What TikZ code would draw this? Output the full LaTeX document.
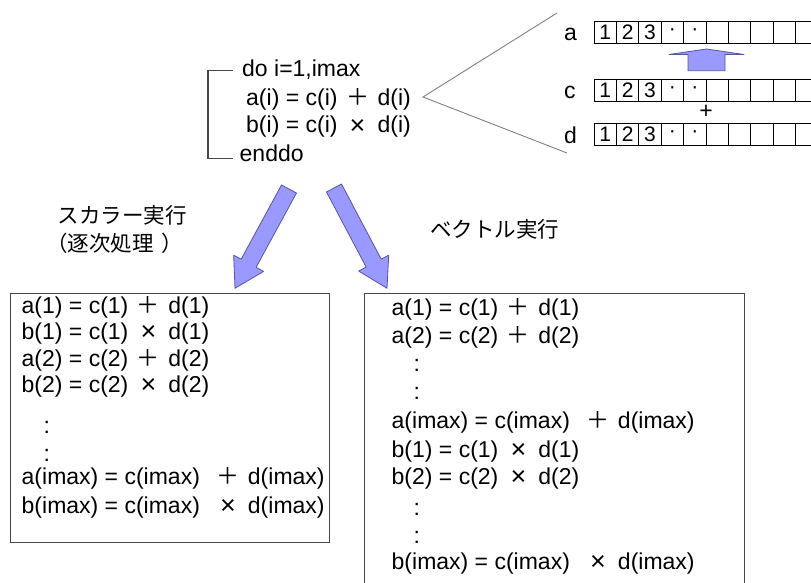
\documentclass[tikz,border=0pt]{standalone}
\usepackage{fontspec}
\setmainfont{Liberation Sans}
\newfontfamily\jpfont{Noto Sans CJK JP}
\usetikzlibrary{calc}
\definecolor{arrowblue}{RGB}{153,153,255}
\definecolor{arrowedge}{RGB}{85,85,160}
\definecolor{boxgray}{RGB}{70,70,70}
\tikzset{line/.style = {anchor=base west, inner sep=0, font=\fontsize{23}{28}\selectfont}}
\tikzset{jp/.style = {anchor=base west, inner sep=0, font=\jpfont\fontsize{21.5}{28}\selectfont}}
\tikzset{cell/.style = {draw=black, line width=0.8, minimum width=22.4, minimum height=22,
                        inner sep=0, font=\fontsize{21}{21}\selectfont}}
\tikzset{bigarrow/.style = {fill=arrowblue, draw=arrowedge, line width=0.8, line join=round}}
\tikzset{frame/.style = {draw=boxgray, line width=1.1}}
\tikzset{wedge/.style = {draw=gray, line width=0.9}}
% operator with a fixed width: gap before, sign
\newcommand\op[2]{\hspace{#1}\makebox[40pt]{#2}}
\newcommand\pl{{\jpfont ＋}}
\newcommand\ti{{\fontsize{27}{28}\selectfont\raisebox{-1.5pt}{×}}}
% fat arrow from #1 to #2
\newcommand\blockarrow[2]{%
  \coordinate (neck) at ($(#2)!28.5pt!(#1)$);
  \draw[bigarrow] ($(#1)!8.5pt!90:(#2)$) -- ($(neck)!8.5pt!90:(#2)$)
    -- ($(neck)!17pt!90:(#2)$) -- (#2) -- ($(neck)!17pt!-90:(#2)$)
    -- ($(neck)!8.5pt!-90:(#2)$) -- ($(#1)!8.5pt!-90:(#2)$) -- cycle;}

\begin{document}
\begin{tikzpicture}[x=1pt, y=-1pt]
  \useasboundingbox (0,0) rectangle (811,583);
  \clip (0,0) rectangle (811,583);

  % the loop
  \node[line] (doline) at (242,77) {do i=1,imax};
  \node[line] (aline) at (246,106) {a(i) = c(i)\op{0pt}{\pl}d(i)};
  \node[line] (bline) at (246,133) {b(i) = c(i)\op{0pt}{\ti}d(i)};
  \node[line] (endline) at (239.5,161) {enddo};
  \draw[frame] (233,70.7) -- (208,70.7) -- (208,158.3) -- (233,158.3);

  % vector registers
  \coordinate (wedgetip) at (423,97);
  \draw[wedge] (557,13) -- (wedgetip) -- (567,153);
  \foreach \row/\y in {a/32, c/90.5, d/134.5} {
    \node[line] (\row lab) at (564,\y+8.5) {\row};
    \foreach \k/\t in {0/1, 1/2, 2/3, 3/·, 4/·}
      \node[cell] (\row\k) at (605.2+22.4*\k,\y) {\t};
    \foreach \k in {5,...,9}
      \node[cell] (\row\k) at (605.2+22.4*\k,\y) {};
  }
  \node[line, anchor=center] (plus) at (706,112) {+};
  \draw[bigarrow] (688,70.7) -- (688,54.5) -- (669,54.5) -- (706.5,49)
    -- (744,54.5) -- (725,54.5) -- (725,70.7) -- cycle;

  % the two ways
  \node[jp] (scalarlab) at (57.5,223) {スカラー実行};
  \node[jp] (seqlab) at (46,251) {（逐次処理\hspace{8pt}）};
  \node[jp] (vectorlab) at (430,237) {ベクトル実行};

  \coordinate (scalarfrom) at (289,189);
  \coordinate (scalarto) at (235,288.3);
  \coordinate (vectorfrom) at (334,188);
  \coordinate (vectorto) at (387,288.3);
  \blockarrow{scalarfrom}{scalarto}
  \blockarrow{vectorfrom}{vectorto}

  % scalar run
  \node[frame, anchor=north west, minimum width=319, minimum height=249] (scalarbox) at (10,293) {};
  \foreach \y/\t in {313/{a(1) = c(1)\op{0pt}{\pl}d(1)},
                     339/{b(1) = c(1)\op{0pt}{\ti}d(1)},
                     366/{a(2) = c(2)\op{0pt}{\pl}d(2)},
                     392/{b(2) = c(2)\op{0pt}{\ti}d(2)},
                     433/{\hspace{22pt}:},
                     461/{\hspace{22pt}:},
                     484/{a(imax) = c(imax)\op{8pt}{\pl}d(imax)},
                     513/{b(imax) = c(imax)\op{8pt}{\ti}d(imax)}}
    \node[line] at (21.5,\y) {\t};

  % vector run
  \node[frame, anchor=north west, minimum width=380, minimum height=320] (vectorbox) at (364,293) {};
  \foreach \y/\t in {315/{a(1) = c(1)\op{0pt}{\pl}d(1)},
                     343/{a(2) = c(2)\op{0pt}{\pl}d(2)},
                     371/{\hspace{22pt}:},
                     399/{\hspace{22pt}:},
                     428/{a(imax) = c(imax)\op{8pt}{\pl}d(imax)},
                     457/{b(1) = c(1)\op{0pt}{\ti}d(1)},
                     484/{b(2) = c(2)\op{0pt}{\ti}d(2)},
                     515/{\hspace{22pt}:},
                     543/{\hspace{22pt}:},
                     569/{b(imax) = c(imax)\op{8pt}{\ti}d(imax)}}
    \node[line] at (391.5,\y) {\t};
\end{tikzpicture}
\end{document}
